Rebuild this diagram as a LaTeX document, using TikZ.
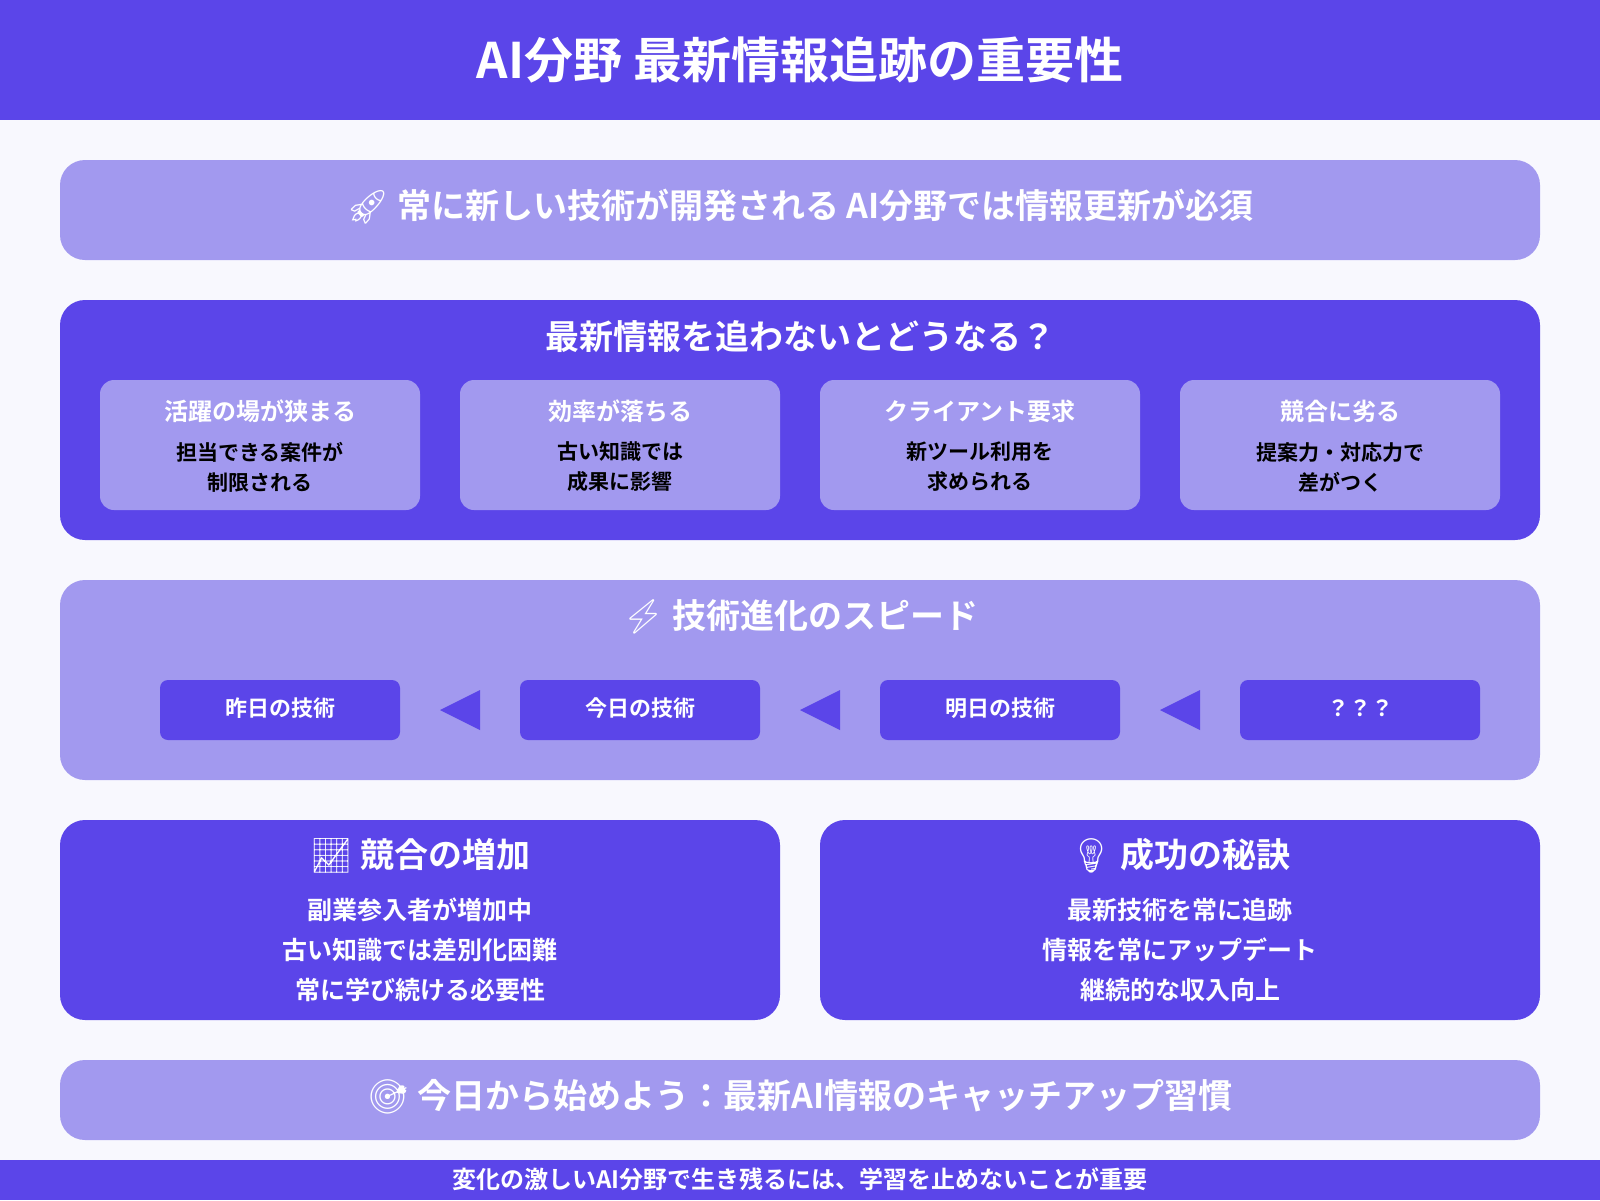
\documentclass[tikz,border=0pt]{standalone}
\usepackage{fontspec}
\setmainfont{Noto Sans CJK JP}[BoldFont={Noto Sans CJK JP Bold}]
\newfontfamily\emo{Noto Emoji}
\definecolor{dk}{HTML}{5B45E9}
\definecolor{lt}{HTML}{A299EF}
\definecolor{bg}{HTML}{F8F8FE}
\tikzset{
 big/.style={fill=#1,rounded corners=12.5pt,draw=none},
 sub/.style={fill=lt,rounded corners=7pt},
 chip/.style={fill=dk,rounded corners=4pt},
 ttl/.style={text=white,font=\bfseries\fontsize{17}{20}\selectfont},
 stl/.style={text=white,font=\bfseries\fontsize{12}{14}\selectfont},
 btx/.style={text=black,font=\bfseries\fontsize{10.5}{15}\selectfont,align=center},
 wtx/.style={text=white,font=\bfseries\fontsize{12.5}{20}\selectfont,align=center},
 ctx/.style={text=white,font=\bfseries\fontsize{11}{13}\selectfont},
}
\begin{document}
\begin{tikzpicture}[x=0.5pt,y=-0.5pt]
\fill[bg] (0,0) rectangle (1600,1200);
\useasboundingbox (0,0) rectangle (1600,1200);
\fill[dk] (0,0) rectangle (1600,120);
\node[text=white,font=\bfseries\fontsize{24.5}{27}\selectfont] (title) at (800,60) {AI分野 最新情報追跡の重要性};
% box1
\fill[big=lt] (60,160) rectangle (1540,260);
\node[ttl] (b1) at (800,207) {{\emo 🚀} 常に新しい技術が開発される AI分野では情報更新が必須};
% box2
\fill[big=dk] (60,300) rectangle (1540,540);
\node[ttl] (b2) at (800,337) {最新情報を追わないとどうなる？};
\foreach \x/\t/\a/\b [count=\i] in {100/活躍の場が狭まる/担当できる案件が/制限される,460/効率が落ちる/古い知識では/成果に影響,820/クライアント要求/新ツール利用を/求められる,1180/競合に劣る/提案力・対応力で/差がつく}{
 \fill[sub] (\x,380) rectangle ++(320,130);
 \node[stl] (s\i) at (\x+160,411) {\t};
 \node[btx] (d\i) at (\x+160,467) {\a\\\b};
}
% box3
\fill[big=lt] (60,580) rectangle (1540,780);
\node[ttl] (b3) at (800,617) {{\emo ⚡} 技術進化のスピード};
\foreach \x/\t [count=\i] in {160/昨日の技術,520/今日の技術,880/明日の技術,1240/？？？}{
 \fill[chip] (\x,680) rectangle ++(240,60);
 \node[ctx] (c\i) at (\x+120,708) {\t};
}
\foreach \x in {440,800,1160}{
 \fill[dk] (\x,710) -- (\x+40,690) -- (\x+40,730) -- cycle;
}
% box4/5
\fill[big=dk] (60,820) rectangle (780,1020);
\node[ttl] (b4) at (420,856) {{\emo 📈} 競合の増加};
\node[wtx] (l4) at (420,950) {副業参入者が増加中\\古い知識では差別化困難\\常に学び続ける必要性};
\fill[big=dk] (820,820) rectangle (1540,1020);
\node[ttl] (b5) at (1180,856) {{\emo 💡} 成功の秘訣};
\node[wtx] (l5) at (1180,950) {最新技術を常に追跡\\情報を常にアップデート\\継続的な収入向上};
% box6
\fill[big=lt] (60,1060) rectangle (1540,1140);
\node[ttl] (b6) at (800,1097) {{\emo 🎯} 今日から始めよう：最新AI情報のキャッチアップ習慣};
\fill[dk] (0,1160) rectangle (1600,1200);
\node[text=white,font=\bfseries\fontsize{12}{14}\selectfont] (ft) at (800,1179) {変化の激しいAI分野で生き残るには、学習を止めないことが重要};
\end{tikzpicture}
\end{document}
